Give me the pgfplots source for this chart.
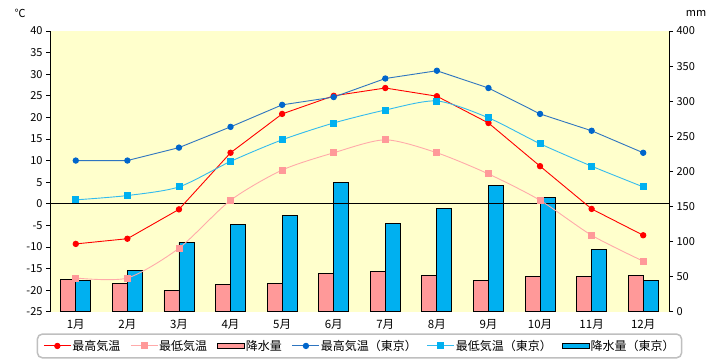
\documentclass[border=0pt]{standalone}
\usepackage{pgfplots}
\pgfplotsset{compat=1.18}
\usepackage{fontspec}
\setmainfont{Noto Sans CJK JP}
\definecolor{bgy}{HTML}{FFFFCC}
\definecolor{barpink}{HTML}{FF9999}
\definecolor{barblue}{HTML}{00B0F0}
\definecolor{redl}{HTML}{FF0000}
\definecolor{pinkm}{HTML}{FF9999}
\definecolor{pinkl}{HTML}{FFAAAA}
\definecolor{dblue}{HTML}{0066CC}
\definecolor{dbluel}{HTML}{2E75C0}
\definecolor{lbluem}{HTML}{00B0F0}
\definecolor{lbluel}{HTML}{33BBEE}
\begin{document}
\begin{tikzpicture}
\useasboundingbox (0pt,0pt) rectangle (720pt,360pt);
\node[font=\fontsize{11}{12}\selectfont] at (20pt,347pt) {℃};
\node[font=\fontsize{11}{12}\selectfont] at (696pt,347pt) {mm};

\begin{axis}[
 at={(50pt,48.3pt)}, anchor=south west, scale only axis,
 width=619pt, height=280.7pt,
 xmin=0.5, xmax=12.5, ymin=0, ymax=400,
 hide x axis, axis y line*=right,
 ytick={0,50,...,400}, tick align=outside, major tick length=4pt,
 y axis line style={line width=0.8pt, -},
 ytick style={black, line width=0.8pt},
 yticklabel style={font=\fontsize{11}{12}\selectfont},
 axis background/.style={fill=bgy},
 /pgf/number format/assume math mode=true,
]
\addplot[ybar, bar width=15pt, bar shift=-7.5pt, fill=barpink, draw=black, line width=0.8pt]
 coordinates {(1,46) (2,40.5) (3,30.5) (4,39) (5,40.5) (6,54.7) (7,57.6) (8,51.9) (9,44.7) (10,50.4) (11,50.4) (12,51.9)};
\addplot[ybar, bar width=15pt, bar shift=7.5pt, fill=barblue, draw=black, line width=0.8pt]
 coordinates {(1,44.7) (2,59) (3,98.9) (4,124.5) (5,137.4) (6,184.4) (7,126) (8,147.4) (9,180.1) (10,163) (11,88.9) (12,44.7)};
\end{axis}

\begin{axis}[
 at={(50pt,48.3pt)}, anchor=south west, scale only axis,
 width=619pt, height=280.7pt,
 xmin=0.5, xmax=12.5, ymin=-25, ymax=40,
 axis y line*=left, axis x line*=bottom,
 x axis line style={draw=none},
 y axis line style={line width=0.8pt, -},
 xtick={1,...,12},
 xticklabels={1月,2月,3月,4月,5月,6月,7月,8月,9月,10月,11月,12月},
 xtick style={draw=none},
 xticklabel style={font=\fontsize{11.5}{12}\selectfont},
 ytick={-25,-20,...,40}, tick align=outside, major tick length=4pt,
 ytick style={black, line width=0.8pt},
 yticklabel style={font=\fontsize{11}{12}\selectfont},
 extra y ticks={0}, extra y tick labels={},
 extra y tick style={grid=major, major grid style={black, line width=0.8pt}, tick style={draw=none}},
 /pgf/number format/assume math mode=true,
 legend image code/.code={\draw[sharp corners, mark repeat=2,mark phase=2,#1] plot coordinates {(0pt,0pt) (13.5pt,0pt) (27pt,0pt)};},
 legend style={at={(0.5,0)}, anchor=north, yshift=-21.6pt, legend columns=6,
   draw=black!25, line width=1.5pt, rounded corners=5pt,
   font=\fontsize{12}{13}\selectfont, inner xsep=6pt, inner ysep=4pt,
   /tikz/every even column/.append style={column sep=9pt},
   nodes={inner xsep=1pt}},
 legend cell align=left,
]
\addplot[color=redl, line width=0.9pt, mark=*, mark size=2.7pt, mark options={fill=redl, draw=redl}]
 coordinates {(1,-9.3) (2,-8.1) (3,-1.3) (4,11.8) (5,20.8) (6,25) (7,26.8) (8,24.9) (9,18.7) (10,8.7) (11,-1.2) (12,-7.3)};
\addlegendentry{最高気温}
\addplot[color=pinkl, line width=0.9pt, smooth, tension=0.45, mark=square*, mark size=3pt, mark options={fill=pinkm, draw=pinkm, sharp corners}]
 coordinates {(1,-17.2) (2,-17.2) (3,-10.3) (4,0.8) (5,7.8) (6,11.8) (7,14.8) (8,11.8) (9,6.9) (10,0.8) (11,-7.3) (12,-13.3)};
\addlegendentry{最低気温}
\addlegendimage{legend image code/.code={\draw[sharp corners, fill=barpink, draw=black, line width=0.8pt] (0pt,-2.7pt) rectangle (27pt,2.7pt);}}
\addlegendentry{降水量}
\addplot[color=dbluel, line width=0.9pt, mark=*, mark size=2.7pt, mark options={fill=dblue, draw=dblue}]
 coordinates {(1,10) (2,10) (3,13) (4,17.8) (5,22.9) (6,24.7) (7,29) (8,30.8) (9,26.8) (10,20.8) (11,16.9) (12,11.8)};
\addlegendentry{最高気温（東京）}
\addplot[color=lbluel, line width=0.9pt, smooth, tension=0.45, mark=square*, mark size=3pt, mark options={fill=lbluem, draw=lbluem, sharp corners}]
 coordinates {(1,0.9) (2,1.9) (3,3.9) (4,9.8) (5,14.8) (6,18.7) (7,21.7) (8,23.8) (9,19.9) (10,13.9) (11,8.7) (12,3.9)};
\addlegendentry{最低気温（東京）}
\addlegendimage{legend image code/.code={\draw[sharp corners, fill=barblue, draw=black, line width=0.8pt] (0pt,-2.7pt) rectangle (27pt,2.7pt);}}
\addlegendentry{降水量（東京）}
\end{axis}
\end{tikzpicture}
\end{document}
